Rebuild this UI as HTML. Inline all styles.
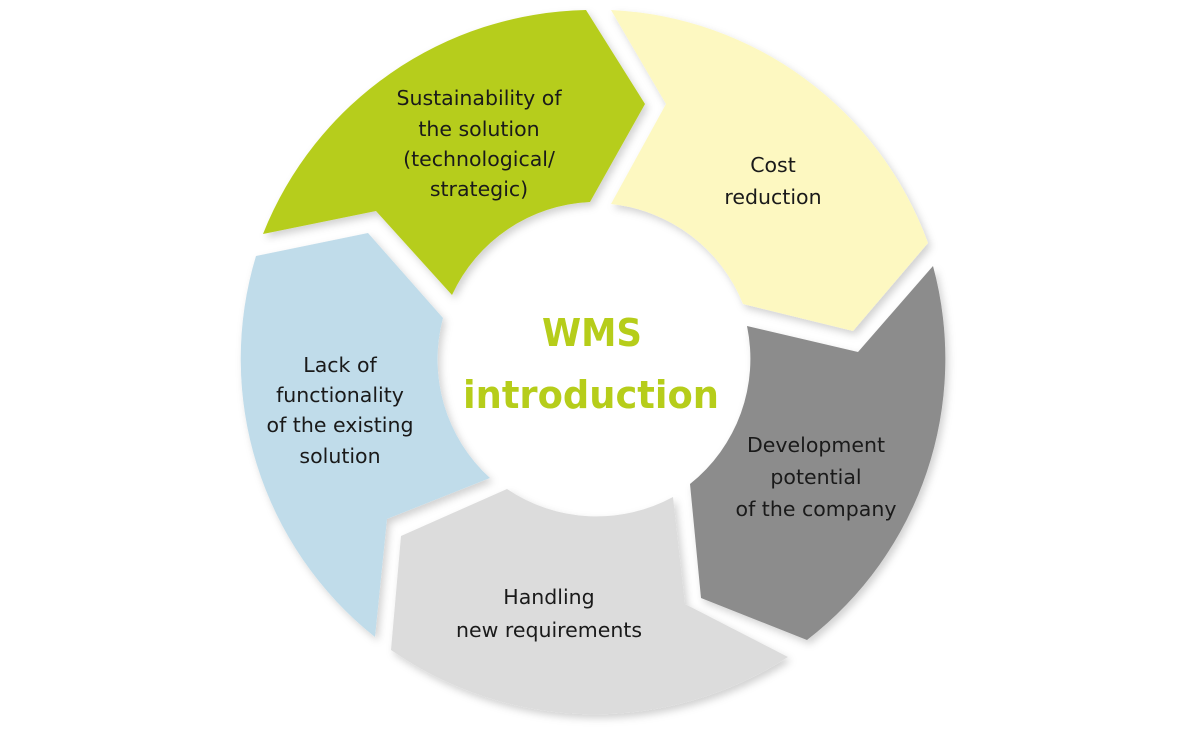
<!DOCTYPE html>
<html><head><meta charset="utf-8"><style>
html,body{margin:0;padding:0;background:#fff;}
svg{display:block;}
text{font-family:"DejaVu Sans","Liberation Sans",sans-serif;}
</style></head><body>
<svg width="1200" height="740" viewBox="0 0 1200 740" xmlns="http://www.w3.org/2000/svg">
<defs>
<filter id="sh" x="-10%" y="-10%" width="120%" height="120%">
<feDropShadow dx="3" dy="4" stdDeviation="4" flood-color="#000" flood-opacity="0.18"/>
</filter>
</defs>
<g filter="url(#sh)">
<path fill="#b6cd1a" d="M263,234 A355,355 0 0 1 586,10 L645,104 L590,202 A160,160 0 0 0 452,295 L376,211 Z"/>
<path fill="#fdf8c1" d="M611,10 A355,355 0 0 1 928,243 L853,331 L743,304 A160,160 0 0 0 611,204 L666,104 Z"/>
<path fill="#8c8c8c" d="M933,266 A355,355 0 0 1 807,640 L701,598 L690,484 A160,160 0 0 0 747,326 L858,352 Z"/>
<path fill="#dcdcdc" d="M788,657 A355,355 0 0 1 391,650 L401,536 L507,489 A160,160 0 0 0 673,497 L685,604 Z"/>
<path fill="#c0dcea" d="M375,637 A355,355 0 0 1 256,256 L368,233 L443,318 A160,160 0 0 0 490,478 L387,519 Z"/>
</g>
<g font-size="20.5" fill="#1a1a1a" text-anchor="middle">
<text x="479" y="105">Sustainability of</text>
<text x="479" y="136">the solution</text>
<text x="479" y="166">(technological/</text>
<text x="479" y="196">strategic)</text>
<text x="773" y="172">Cost</text>
<text x="773" y="204">reduction</text>
<text x="816" y="452">Development</text>
<text x="816" y="484">potential</text>
<text x="816" y="516">of the company</text>
<text x="549" y="604">Handling</text>
<text x="549" y="637">new requirements</text>
<text x="340" y="372">Lack of</text>
<text x="340" y="402">functionality</text>
<text x="340" y="432">of the existing</text>
<text x="340" y="463">solution</text>
</g>
<g font-weight="bold" fill="#b6cd1a" text-anchor="middle" font-size="38">
<text x="592" y="346" textLength="100" lengthAdjust="spacingAndGlyphs">WMS</text>
<text x="591" y="408" textLength="256" lengthAdjust="spacingAndGlyphs">introduction</text>
</g>
</svg>
</body></html>
